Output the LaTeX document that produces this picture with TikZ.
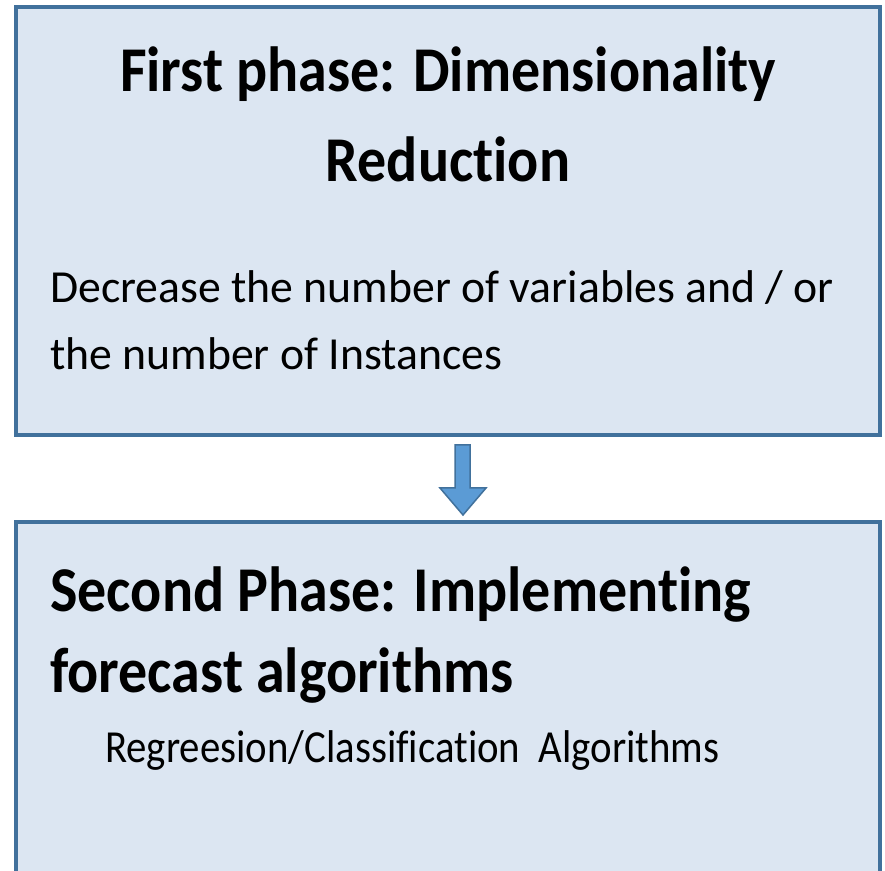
\documentclass[tikz,border=0pt]{standalone}
\usepackage{fontspec}
\setmainfont{Carlito}[Ligatures={NoCommon}]
\definecolor{boxfill}{HTML}{DCE6F2}
\definecolor{boxline}{HTML}{41719C}
\definecolor{arrfill}{HTML}{5B9BD5}
\definecolor{arrline}{HTML}{41719C}
\tikzset{
  phasebox/.style={draw=boxline, fill=boxfill, line width=3.5pt, inner sep=0pt},
  titletext/.style={inner sep=0pt, font=\fontsize{58}{60}\selectfont\bfseries},
  bodytext/.style={inner sep=0pt, font=\fontsize{45}{50}\selectfont},
  blockarrow/.style={draw=arrline, fill=arrfill, line width=1.5pt, line join=miter}
}
\begin{document}
\begin{tikzpicture}[x=1pt,y=1pt]
\useasboundingbox (0,0) rectangle (885,870);
\clip (0,0) rectangle (885,870);
\fill[white] (0,0) rectangle (885,870);
% boxes
\draw[phasebox] (16,435) rectangle (880,863);
\draw[phasebox] (16,-20) rectangle (880,348);
% texts
\node[titletext, anchor=base] (t1a) at (448,778) {\scalebox{1}[1.1]{First phase: Dimensionality}};
\node[titletext, anchor=base] (t1b) at (448,688) {\scalebox{1}[1.1]{Reduction}};
\node[bodytext, anchor=base west] (d1a) at (50,567) {\scalebox{1.016}[1.02]{Decrease the number of variables and / or}};
\node[bodytext, anchor=base west] (d1b) at (50,500) {\scalebox{1.016}[1.02]{the number of Instances}};
\node[titletext, anchor=base west] (t2a) at (50,258) {\scalebox{1}[1.1]{Second Phase: Implementing}};
\node[titletext, anchor=base west] (t2b) at (50,178) {\scalebox{1}[1.1]{forecast algorithms}};
\node[bodytext, anchor=base west] (d2) at (105,108) {\scalebox{0.907}[1.02]{Regreesion/Classification\ \ Algorithms}};
% arrow
\draw[blockarrow] (455,425) -- (470,425) -- (470,382) -- (486,382) -- (463,355) -- (440,382) -- (455,382) -- cycle;
\end{tikzpicture}
\end{document}
